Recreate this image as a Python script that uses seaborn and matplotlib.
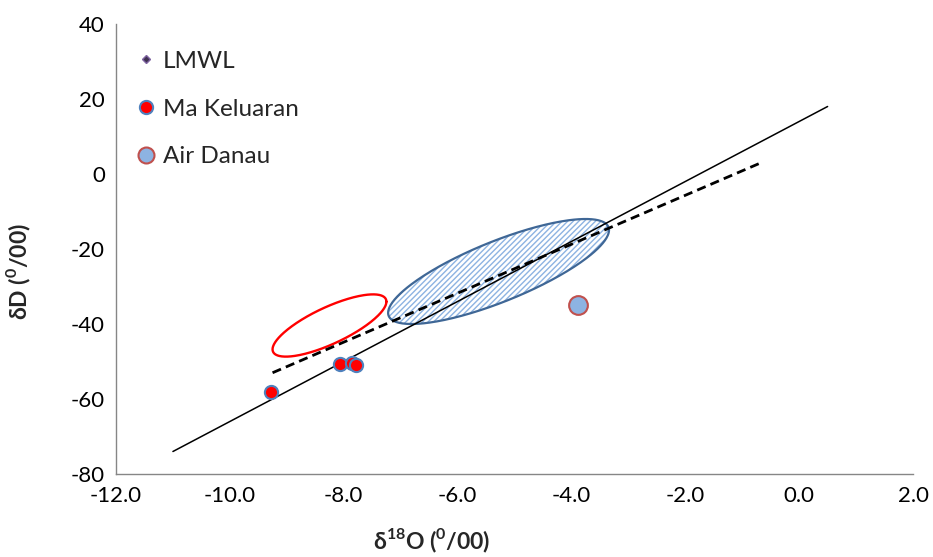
import numpy as np
import pandas as pd
import matplotlib
matplotlib.use('Agg')
import matplotlib.pyplot as plt
from matplotlib.lines import Line2D
import seaborn as sns

# sample values (d18O, dD)
ma_keluaran_x = [-9.27, -8.07, -7.86, -7.78]
ma_keluaran_y = [-58.2, -50.6, -50.3, -51.0]
air_danau_x = [-3.88]
air_danau_y = [-34.8]

# LMWL (solid) and sample regression (dashed) end points
lmwl_x = [-11.0, 0.5]
lmwl_y = [-74.0, 18.0]
reg_x = [-9.25, -0.67]
reg_y = [-53.0, 3.0]

# ellipses: centre x, centre y, half width (x), half height (y), skew angle
red_ell = (-8.25, -40.4, 1.0, 8.3, 50)
blue_ell = (-5.28, -26.0, 1.94, 14.0, 52)

xticks = [-12, -10, -8, -6, -4, -2, 0, 2]
yticks = [-80, -60, -40, -20, 0, 20, 40]

sns.set_style('white')
plt.rcParams['font.family'] = ['Lato', 'DejaVu Sans']
plt.rcParams['axes.unicode_minus'] = False
plt.rcParams['mathtext.fontset'] = 'custom'
plt.rcParams['mathtext.rm'] = 'Lato'
plt.rcParams['mathtext.bf'] = 'Lato:bold'
plt.rcParams['hatch.linewidth'] = 1.0

fig = plt.figure(figsize=(9.33, 5.57), dpi=100)
ax = fig.add_axes([116/933, 1 - 474/557, 797/933, 450/557])


def ellipse_pts(e):
    cx, cy, rx, ry, phi = e
    t = np.linspace(0, 2 * np.pi, 300)
    return cx + rx * np.cos(t), cy + ry * np.sin(t + np.radians(phi))


# blue hatched ellipse
bx, by = ellipse_pts(blue_ell)
ax.fill(bx, by, facecolor='white', edgecolor='#8DB3E2', hatch='//////', lw=0, zorder=1)
ax.plot(bx, by, color='#3F6796', lw=1.6, zorder=2)

# red ellipse
rx_, ry_ = ellipse_pts(red_ell)
ax.plot(rx_, ry_, color='#FF0000', lw=1.7, zorder=2)

# lines
ax.plot(lmwl_x, lmwl_y, color='black', lw=1.1, zorder=3)
ax.plot(reg_x, reg_y, color='black', lw=2.0, linestyle=(0, (3.3, 1.9)), zorder=3)

df_mk = pd.DataFrame({'x': ma_keluaran_x, 'y': ma_keluaran_y})
df_ad = pd.DataFrame({'x': air_danau_x, 'y': air_danau_y})
sns.scatterplot(data=df_ad, x='x', y='y', ax=ax, s=13.5**2, color='#8DB3E2',
                edgecolor='#C0504D', linewidth=1.5, zorder=4, legend=False)
sns.scatterplot(data=df_mk, x='x', y='y', ax=ax, s=9.5**2, color='#FF0000',
                edgecolor='#4F81BD', linewidth=1.5, zorder=5, legend=False)

ax.set_xlim(-12, 2)
ax.set_ylim(-80, 40)
ax.set_xticks(xticks)
ax.set_xticklabels([f'{v:.1f}' for v in xticks])
ax.set_yticks(yticks)
ax.set_yticklabels([str(v) for v in yticks])

for side in ['top', 'right']:
    ax.spines[side].set_visible(False)
for side in ['left', 'bottom']:
    ax.spines[side].set_color('#868686')
    ax.spines[side].set_linewidth(1.0)
ax.tick_params(axis='both', direction='out', length=5, width=1.0, color='#868686',
               labelsize=16, labelcolor='black', pad=3)
ax.tick_params(axis='x', pad=4)

ax.set_xlabel(r'δ$^{\mathbf{18}}$O ($^{\mathbf{0}}$/00)', fontsize=16.5, fontweight='bold')
ax.set_ylabel(r'δD ($^{\mathbf{0}}$/00)', fontsize=16.5, fontweight='bold')
ax.xaxis.set_label_coords(0.396, -0.118)
ax.yaxis.set_label_coords(-0.104, 0.449)

handles = [
    Line2D([], [], linestyle='none', marker='D', markersize=4.5,
           markerfacecolor='#3F3151', markeredgecolor='#8064A2', markeredgewidth=1),
    Line2D([], [], linestyle='none', marker='o', markersize=9.5,
           markerfacecolor='#FF0000', markeredgecolor='#4F81BD', markeredgewidth=1.5),
    Line2D([], [], linestyle='none', marker='o', markersize=11.5,
           markerfacecolor='#8DB3E2', markeredgecolor='#C0504D', markeredgewidth=1.5),
]
ax.legend(handles, ['LMWL', 'Ma Keluaran', 'Air Danau'], loc='upper left',
          bbox_to_anchor=(-0.002, 0.978), frameon=False, fontsize=17.5,
          labelspacing=1.1, handletextpad=0.1, handlelength=1.2, borderaxespad=0.3)

fig.savefig('out.png', dpi=100)
